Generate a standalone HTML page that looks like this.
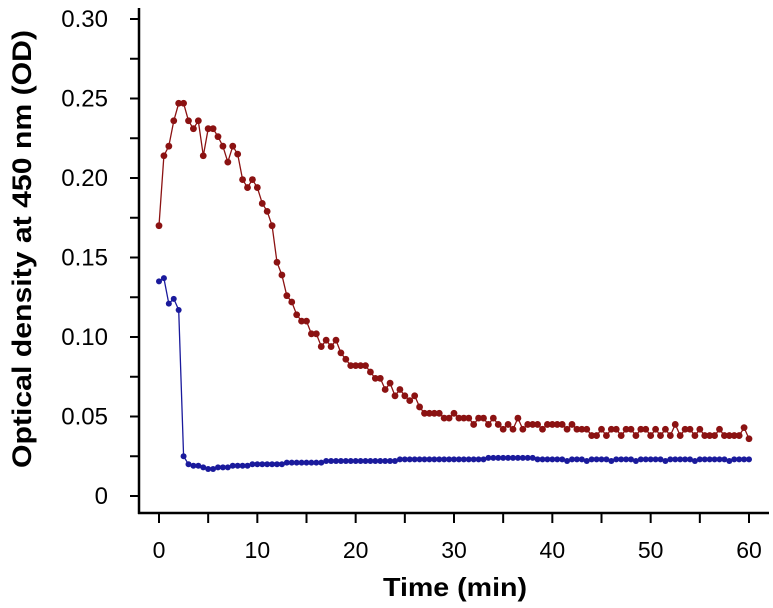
<!DOCTYPE html>
<html><head><meta charset="utf-8"><style>
html,body{margin:0;padding:0;background:#fff;}
svg{display:block;font-family:"Liberation Sans",Arial,sans-serif;}
</style></head><body>
<svg id="chart" width="773" height="608">
<g id="axes"></g>
<g id="series"></g>
<text x="455" y="596" text-anchor="middle" font-size="26" font-weight="bold" textLength="144" lengthAdjust="spacingAndGlyphs">Time (min)</text>
<text transform="translate(31,249) rotate(-90)" text-anchor="middle" font-size="27" font-weight="bold" textLength="438" lengthAdjust="spacingAndGlyphs">Optical density at 450 nm (OD)</text>
</svg>
<script>
const xTickLabels=["0","10","20","30","40","50","60"];
const yTickLabels=["0","0.05","0.10","0.15","0.20","0.25","0.30"];
const xTickValues=[0,10,20,30,40,50,60];
const yTickValues=[0,0.05,0.10,0.15,0.20,0.25,0.30];
const redValues=[0.170,0.214,0.220,0.236,0.247,0.247,0.236,0.231,0.236,0.214,
0.231,0.231,0.226,0.220,0.210,0.220,0.215,0.199,0.194,0.199,
0.194,0.184,0.179,0.170,0.147,0.139,0.126,0.122,0.114,0.110,
0.110,0.102,0.102,0.094,0.098,0.094,0.098,0.090,0.086,0.082,
0.082,0.082,0.082,0.078,0.074,0.074,0.067,0.071,0.063,0.067,
0.063,0.060,0.063,0.056,0.052,0.052,0.052,0.052,0.049,0.049,
0.052,0.049,0.049,0.049,0.045,0.049,0.049,0.045,0.049,0.045,
0.042,0.045,0.042,0.049,0.042,0.045,0.045,0.045,0.042,0.045,
0.045,0.045,0.045,0.042,0.045,0.042,0.042,0.042,0.038,0.038,
0.042,0.038,0.042,0.042,0.038,0.042,0.042,0.038,0.042,0.042,
0.038,0.042,0.038,0.042,0.038,0.045,0.038,0.042,0.042,0.038,
0.042,0.038,0.038,0.038,0.042,0.038,0.038,0.038,0.038,0.043,0.036];
const blueValues=[0.135,0.137,0.121,0.124,0.117,0.025,0.020,0.019,0.019,0.018,0.017,
0.017,0.018,0.018,0.018,0.019,0.019,0.019,0.019,0.020,0.020,
0.020,0.020,0.020,0.020,0.020,0.021,0.021,0.021,0.021,0.021,0.021,0.021,0.021,0.022,0.022,0.022,0.022,0.022,0.022,0.022,
0.022,0.022,0.022,0.022,0.022,0.022,0.022,0.022,0.023,0.023,0.023,0.023,0.023,0.023,0.023,0.023,0.023,0.023,0.023,0.023,
0.023,0.023,0.023,0.023,0.023,0.023,0.024,0.024,0.024,0.024,0.024,0.024,0.024,0.024,0.024,0.024,0.023,0.023,0.023,0.023,
0.023,0.023,0.022,0.023,0.023,0.023,0.022,0.023,0.023,0.023,0.023,0.022,0.023,0.023,0.023,0.023,0.022,0.023,0.023,0.023,
0.023,0.023,0.022,0.023,0.023,0.023,0.023,0.023,0.022,0.023,0.023,0.023,0.023,0.023,0.023,0.022,0.023,0.023,0.023,0.023];
const timeStep=0.5;
const NS="http://www.w3.org/2000/svg";
function xs(t){return 159+t*(749-159)/60;}
function ys(v){return 496-v*(496-19)/0.30;}
function mk(tag,attrs,parent){const e=document.createElementNS(NS,tag);for(const k in attrs)e.setAttribute(k,attrs[k]);parent.appendChild(e);return e;}
const axes=document.getElementById('axes');
let e=mk('line',{x1:139,y1:8,x2:139,y2:514,stroke:'#000','stroke-width':2.5},axes);


e=mk('line',{x1:138,y1:513,x2:769,y2:513,stroke:'#000','stroke-width':2.5},axes);


for(let t=0;t<=60;t+=5){
  e=mk('line',{x1:xs(t),y1:514,x2:xs(t),y2:523,stroke:'#000','stroke-width':2},axes);
  
  
}
xTickValues.forEach((t,i)=>{
  e=mk('text',{x:xs(t),y:558,'text-anchor':'middle','font-size':23},axes);
  e.textContent=xTickLabels[i];
  
  
});
for(let k=0;k<=12;k++){
  const v=k*0.025;
  e=mk('line',{x1:130,y1:ys(v),x2:139,y2:ys(v),stroke:'#000','stroke-width':2},axes);
  
  
}
yTickValues.forEach((v,i)=>{
  e=mk('text',{x:108,y:ys(v)+8,'text-anchor':'end','font-size':24},axes);
  e.textContent=yTickLabels[i];
  
  
});
const series=document.getElementById('series');
function draw(vals,color,r,name){
  const g=mk('g',{},series);
  
  
  const pts=vals.map((v,i)=>xs(i*timeStep).toFixed(1)+','+ys(v).toFixed(1)).join(' ');
  const pl=mk('polyline',{points:pts,fill:'none',stroke:color,'stroke-width':1.3},g);
  
  
  vals.forEach((v,i)=>{
    const c=mk('circle',{cx:xs(i*timeStep),cy:ys(v),r:r,fill:color},g);
    
    
  });
}
draw(redValues,'#8b1212',3.4,'red-series');
draw(blueValues,'#1a1a9c',3.0,'blue-series');
</script>
</body></html>
